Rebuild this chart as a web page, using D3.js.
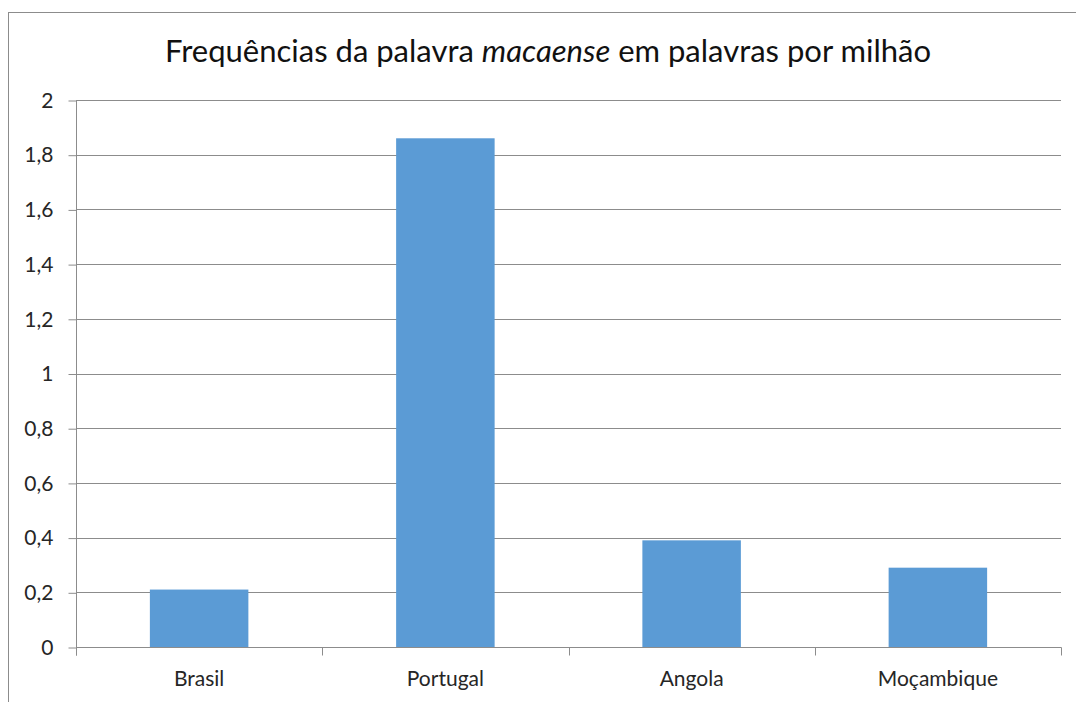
<!DOCTYPE html>
<html>
<head>
<meta charset="utf-8">
<script src="https://cdn.jsdelivr.net/npm/d3@7"></script>
<style>
    body { margin: 0; background: #fff; }
    text { font-family: "Lato", "Open Sans", sans-serif; }
</style>
</head>
<body>
<div id="chart"></div>
<script>
// data
var countries = ["Brasil", "Portugal", "Angola", "Moçambique"];
var freqs = [0.21, 1.86, 0.39, 0.29];
var yTicks = [0, 0.2, 0.4, 0.6, 0.8, 1, 1.2, 1.4, 1.6, 1.8, 2];

var W = 1076, H = 702;
var plotLeft = 76, plotRight = 1061, plotTop = 100, plotBottom = 647;

var svg = d3.select("#chart").append("svg")
    .attr("width", W)
    .attr("height", H);

// outer chart frame (runs off the right and bottom edge)
svg.append("rect")
    .attr("x", 8.5).attr("y", 12.5)
    .attr("width", 1100).attr("height", 800)
    .attr("fill", "none")
    .attr("stroke", "#8c8c8c");

var x = d3.scaleBand()
    .domain(countries)
    .range([plotLeft, plotRight])
    .paddingInner(0.6)
    .paddingOuter(0.3);

var y = d3.scaleLinear()
    .domain([0, 2])
    .range([plotBottom, plotTop]);

var fmt = function (d) { return String(d).replace(".", ","); };

// gridlines
svg.append("g").selectAll("line")
    .data(yTicks.slice(1))
    .enter().append("line")
    .attr("x1", plotLeft).attr("x2", plotRight)
    .attr("y1", function (d) { return Math.round(y(d)) + 0.5; })
    .attr("y2", function (d) { return Math.round(y(d)) + 0.5; })
    .attr("stroke", "#8c8c8c");

// bars
svg.append("g").selectAll("rect")
    .data(freqs)
    .enter().append("rect")
    .attr("x", function (d, i) { return x(countries[i]); })
    .attr("width", x.bandwidth())
    .attr("y", function (d) { return y(d); })
    .attr("height", function (d) { return plotBottom - y(d); })
    .attr("fill", "#5b9bd5");

// y axis
var yAxis = svg.append("g")
    .attr("transform", "translate(" + (plotLeft + 0.5) + ",0.5)")
    .call(d3.axisLeft(y).tickValues(yTicks).tickFormat(fmt).tickSize(8).tickPadding(15));
yAxis.select(".domain").attr("stroke", "#8c8c8c").attr("d", "M0," + plotTop + "V" + (plotBottom + 8));
yAxis.selectAll(".tick line").attr("stroke", "#8c8c8c");
yAxis.selectAll(".tick text")
    .attr("font-size", 21)
    .attr("fill", "#262626")
    .attr("font-family", "Lato, sans-serif");

// x axis: ticks sit on category boundaries
var xAxis = svg.append("g")
    .attr("transform", "translate(0," + (plotBottom + 0.5) + ")");
xAxis.append("line")
    .attr("x1", plotLeft).attr("x2", plotRight + 0.5)
    .attr("stroke", "#8c8c8c");
var step = (plotRight - plotLeft) / countries.length;
xAxis.selectAll(".xt")
    .data(d3.range(countries.length + 1))
    .enter().append("line")
    .attr("x1", function (i) { return Math.round(plotLeft + i * step) + 0.5; })
    .attr("x2", function (i) { return Math.round(plotLeft + i * step) + 0.5; })
    .attr("y1", 0).attr("y2", 8)
    .attr("stroke", "#8c8c8c");
xAxis.selectAll(".xl")
    .data(countries)
    .enter().append("text")
    .attr("x", function (d) { return x(d) + x.bandwidth() / 2; })
    .attr("y", 38)
    .attr("text-anchor", "middle")
    .attr("font-size", 21)
    .attr("fill", "#262626")
    .text(function (d) { return d; });

// title
var title = svg.append("text")
    .attr("x", 548)
    .attr("y", 62)
    .attr("text-anchor", "middle")
    .attr("font-size", 31)
    .attr("fill", "#111");
title.append("tspan").text("Frequências da palavra ");
title.append("tspan").attr("font-style", "italic").text("macaense");
title.append("tspan").text(" em palavras por milhão");
</script>
</body>
</html>
